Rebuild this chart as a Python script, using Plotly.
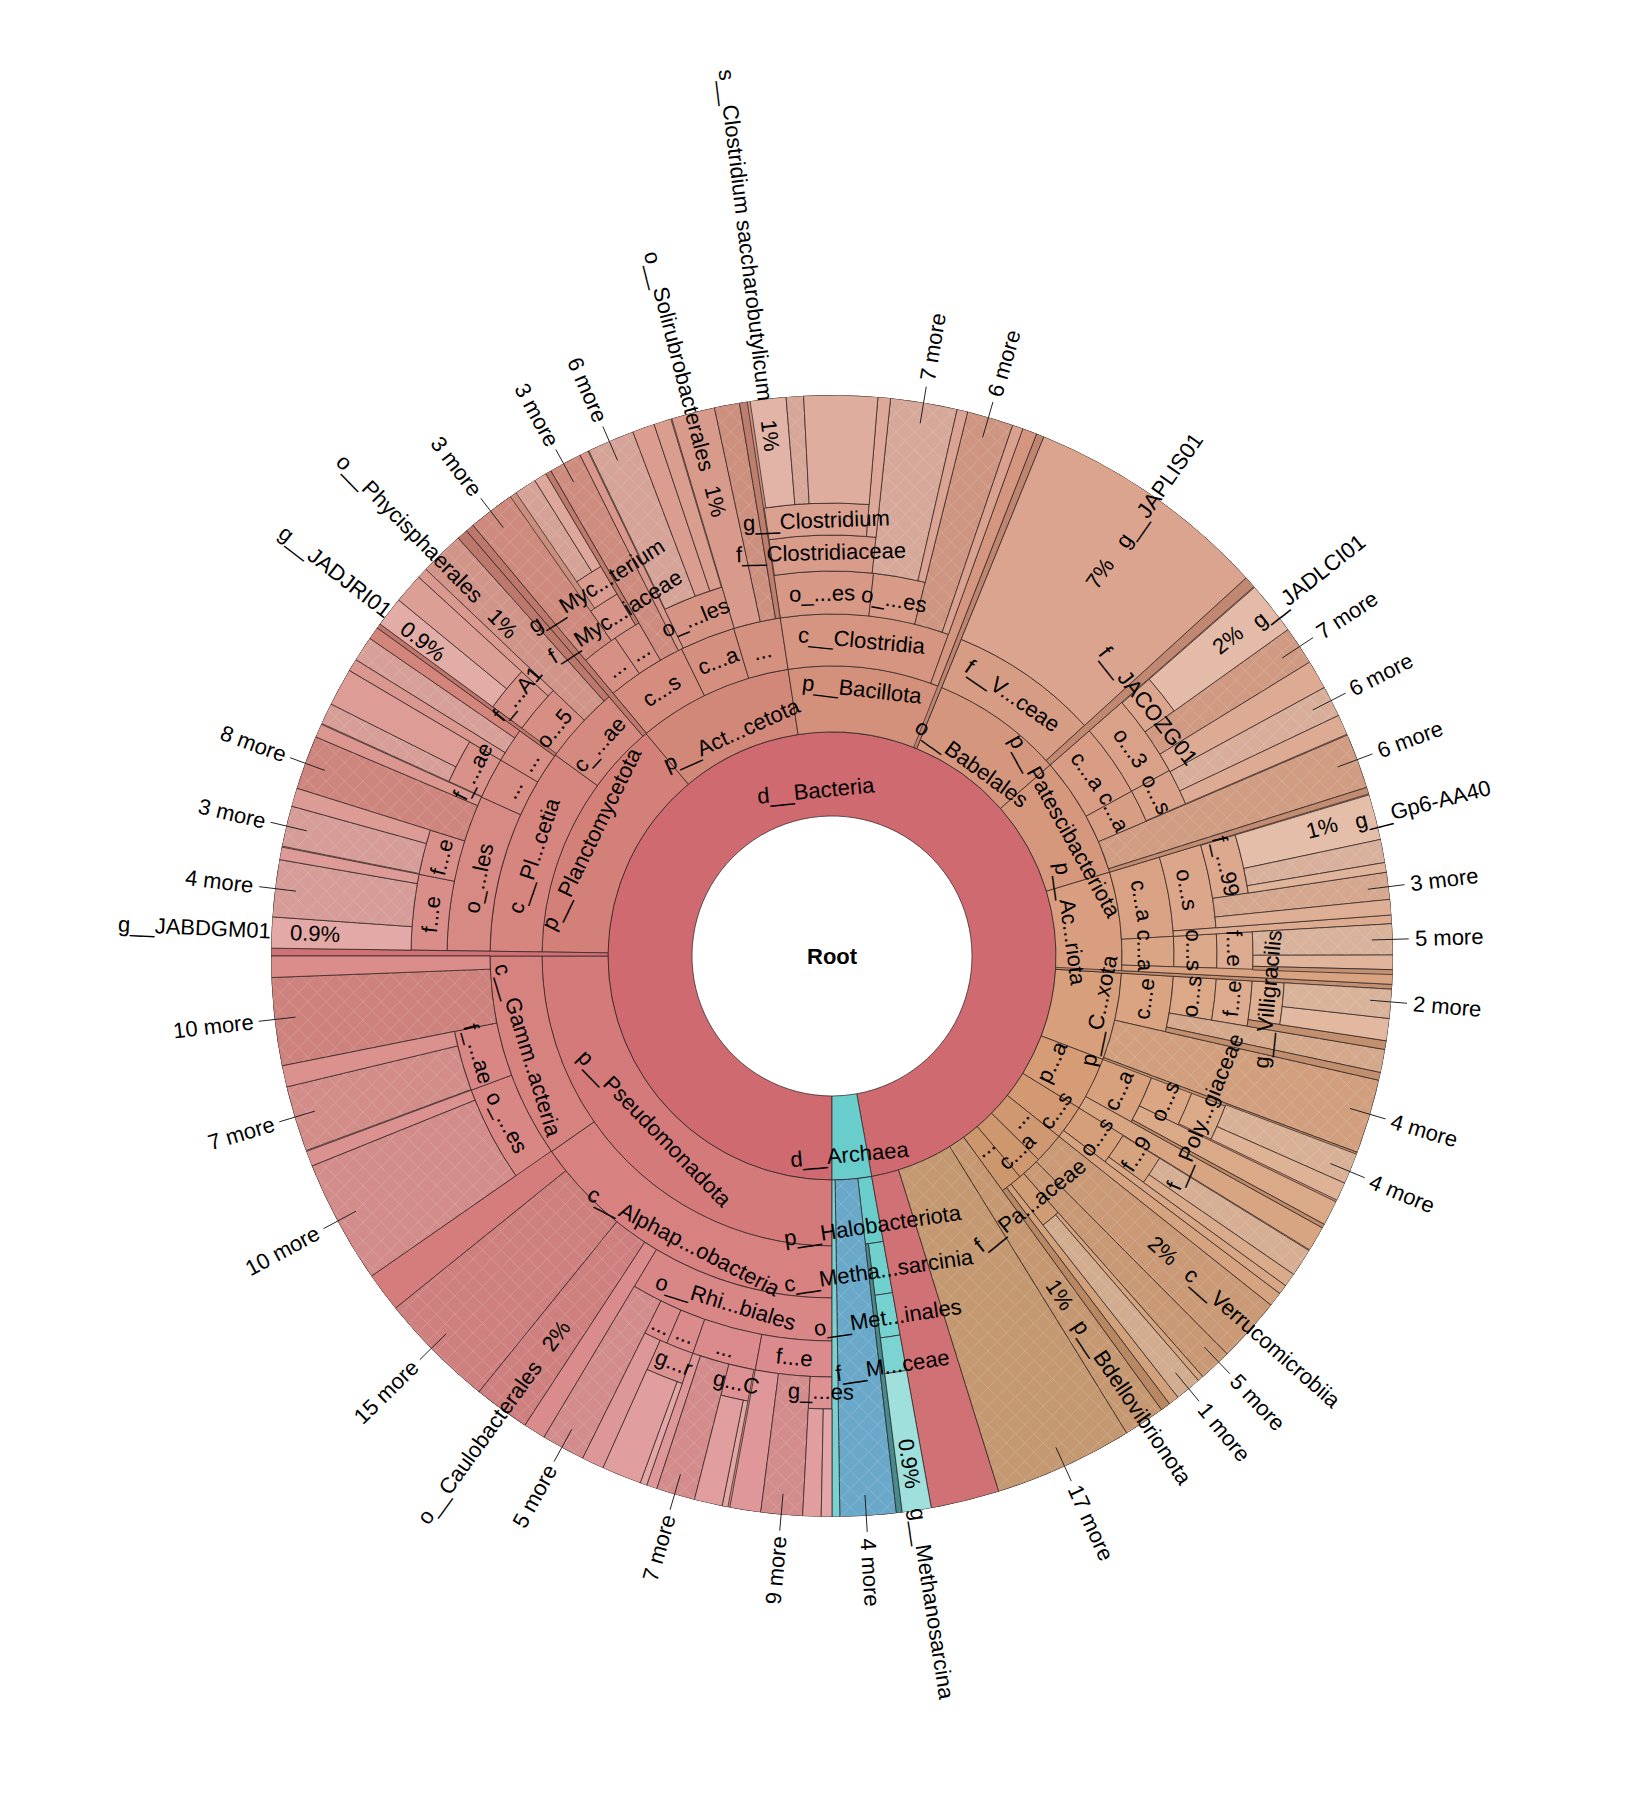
import math
import plotly.graph_objects as go

# Taxon spans in degrees, clockwise from twelve o'clock.
DOMAINS = [("bacteria", 180.0, 529.8), ("archaea", 169.8, 180.0)]

PHYLA = [(180, 270), (270.8, 320.1), (320.1, 351.3), (351.3, 382.2), (22.2, 48.8), (48.8, 73.2),
         (73.2, 93.4), (93.4, 110.9), (110.9, 121.6), (121.6, 128.5), (128.5, 134.6), (134.6, 139.6),
         (139.6, 144.0), (169.8, 173.4)]
CLASSES = [(235.1, 270), (180, 235.1), (270.8, 306), (306, 319.3), (320.2, 333.9), (333.9, 343.3),
           (343.3, 351.3), (351.3, 379.9), (22.2, 47.6), (48.8, 61.2), (61.2, 66.8), (73.2, 86.7),
           (86.7, 91.8), (93.4, 102.8), (110.7, 119), (121.6, 127), (138.6, 141.9), (169.8, 172.8)]
ORDERS = [(235.1, 249.6), (249.6, 258.7), (180, 210.9), (270.8, 294.4), (294.4, 300.6), (300.6, 305.8),
          (306, 313.6), (320.2, 325.7), (325.7, 329.9), (334.2, 343.4), (351.3, 366.2), (366.2, 374),
          (48.8, 61.2), (61.2, 66.7), (73.2, 85.8), (86.7, 91.8), (93.4, 99.6), (110.7, 116),
          (121.7, 126), (169.8, 172.8)]
FAMILIES = [(203.1, 206.4), (199.3, 203.1), (190.5, 199.3), (180, 190.5), (270.8, 281.2), (281.2, 287.4),
            (294.5, 300.6), (306.3, 312.5), (325, 329.3), (351.4, 366), (48.9, 54.4), (73.3, 81.4),
            (86.7, 91.9), (93.4, 99.6), (110.7, 115.8), (169.8, 172.8)]
GENERA = [(199.3, 204.1), (190.7, 194.2), (180, 183), (351.4, 364.7), (325.7, 329.3), (93.4, 98.7)]

# Wedges running out to the rim: start, end, rank they begin at, kind of node.
DOMAIN_LEAVES = [(162.7, 169.8, "p", "bacteria"), (270, 270.8, "p", "bacteria"),
                 (173.4, 179.2, "p", "blue"), (179.2, 180, "p", "teal")]
PHYLUM_LEAVES = [(144, 148.3, "p", "more_dark"), (148.3, 162.7, "p", "more_dark"), (21.4, 22.2, "p", "sliver"),
                 (92.9, 93.4, "p", "sliver")]
CLASS_LEAVES = [(319.3, 320.2, "c", "sliver"), (19.9, 21.4, "c", "dark"), (47.6, 48.8, "c", "sliver"),
                (66.8, 72.5, "c", "more_dark"), (72.5, 73.2, "c", "sliver"), (91.8, 92.9, "c", "dark"),
                (102.8, 110.5, "c", "more_dark"), (110.5, 110.9, "c", "sliver"), (119, 121.6, "c", "leaf"),
                (127, 128.5, "c", "leaf"), (128.5, 135.2, "c", "more_dark"), (135.2, 138.6, "c", "more_dark"),
                (141.9, 143, "c", "leaf"), (143, 144, "c", "sliver"), (172.8, 173.4, "c", "teal_dark")]
ORDER_LEAVES = [(258.7, 267.8, "o", "more_dark"), (267.8, 270, "o", "leaf"), (231.1, 235.2, "o", "dark"),
                (219, 231.1, "o", "more_dark"), (213.2, 219, "o", "more_dark"), (210.9, 213.2, "o", "leaf"),
                (313.6, 318.2, "o", "more"), (318.2, 319.3, "o", "sliver"), (329.9, 333.3, "o", "more_dark"),
                (333.3, 334.2, "o", "leaf"), (343.4, 347.9, "o", "leaf"), (347.9, 350.5, "o", "more_dark"),
                (350.5, 351.3, "o", "sliver"), (14, 18.8, "o", "more_dark"), (18.8, 19.9, "o", "leaf"),
                (22.2, 47.6, "o", "leaf"), (85.8, 86.7, "o", "leaf"), (99.6, 102, "o", "more"),
                (102, 102.8, "o", "sliver"), (116, 118.6, "o", "leaf"), (118.6, 119, "o", "sliver"),
                (126, 127, "o", "leaf"), (305.8, 306.3, "o", "sliver"), (138.6, 139.2, "o", "leaf"),
                (139.2, 141.9, "o", "more_pale")]
FAMILY_LEAVES = [(249.7, 256.5, "f", "more"), (256.5, 258.7, "f", "leaf"), (248, 249.6, "f", "leaf"),
                 (235.2, 248, "f", "more"), (206.4, 210.9, "f", "more"), (287.4, 293, "f", "more_dark"),
                 (293, 294.4, "f", "leaf"), (300.6, 301.9, "f", "leaf"), (301.9, 304.5, "f", "more_pale"),
                 (304.5, 305.8, "f", "dark"), (312.5, 313.6, "f", "leaf"), (320.2, 325, "f", "more_dark"),
                 (329.3, 329.9, "f", "sliver"), (334.3, 339.2, "f", "more_pale"), (339.2, 341.5, "f", "leaf"),
                 (341.5, 343.3, "f", "leaf"), (6, 12.9, "f", "more_pale"), (12.9, 14, "f", "leaf"),
                 (54.4, 58.4, "f", "more_dark"), (58.4, 61.4, "f", "leaf"), (61.4, 64.6, "f", "more_pale"),
                 (64.6, 66.7, "f", "leaf"), (81.4, 84.2, "f", "more"), (84.2, 85.8, "f", "leaf"),
                 (121.7, 124.6, "f", "more_pale"), (124.6, 126, "f", "leaf")]
GENUS_LEAVES = [(270.8, 274, "g", "pale"), (274, 279.9, "g", "more_pale"), (279.9, 281.2, "g", "leaf"),
                (281.3, 285.5, "g", "more_pale"), (285.5, 287.4, "g", "leaf"), (294.5, 296.7, "g", "more_pale"),
                (296.7, 300.6, "g", "leaf"), (306.3, 309.4, "g", "pale"), (309.4, 312.5, "g", "leaf"),
                (4.7, 6, "g", "leaf"), (48.9, 54.4, "g", "pale"), (73.3, 78, "g", "pale"),
                (78, 80.4, "g", "more_pale"), (80.4, 81.4, "g", "leaf"), (86.7, 89.9, "g", "more_pale"),
                (89.9, 91.4, "g", "leaf"), (91.4, 91.9, "g", "sliver"), (110.7, 113.9, "g", "more_pale"),
                (113.9, 115.8, "g", "leaf"), (204.1, 206.4, "g", "leaf"), (198.2, 199.3, "g", "leaf"),
                (194.2, 198.2, "g", "more"), (187.3, 190.5, "g", "leaf"), (183, 187.3, "g", "more"),
                (169.8, 172.8, "g", "teal_pale"), (98.7, 99.6, "g", "sliver")]
SPECIES_LEAVES = [(351.6, 355.3, "s", "pale"), (355.3, 357.1, "s", "more_pale"), (357.1, 364.7, "s", "leaf"),
                  (325.7, 328, "s", "more_pale"), (328, 329.3, "s", "leaf"), (96.4, 98.7, "s", "leaf"),
                  (93.4, 96.4, "s", "more_pale"), (199.3, 200, "s", "pale"), (200, 204.1, "s", "leaf"),
                  (190.7, 191.3, "s", "pale"), (191.3, 194.2, "s", "leaf"), (181.1, 183, "s", "leaf"),
                  (180, 181.1, "s", "pale")]

# Text set along a ring: label, angle, distance from the centre.
RING_LABELS = [
    ("d__Bacteria", 354.4, 166), ("d__Archaea", 175, 199), ("p__Act...cetota", 335.7, 243),
    ("p__Bacillota", 6.6, 268), ("c__Clostridia", 5.4, 317), ("o_...es", 358.5, 363), ("o_...es", 9.9, 362),
    ("f__Clostridiaceae", 358.5, 404), ("g__Clostridium", 357.9, 436), ("c...s", 327.3, 316), ("c...a", 339, 317),
    ("...", 347, 313), ("...", 323.2, 360), ("...", 327.8, 360), ("o_...les", 338, 365),
    ("f__Myc...iaceae", 327.4, 403), ("g__Myc...terium", 327.6, 439), ("c_...ae", 312.3, 315), ("o...5", 309.3, 359),
    ("f_...A1", 309.9, 410), ("...", 302.6, 360), ("f_...ae", 297.2, 404), ("...", 297.5, 360),
    ("c__Pl...cetia", 288.7, 315), ("p__Planctomycetota", 296.1, 268), ("o_...les", 282.4, 362), ("f...e", 284.2, 403),
    ("f...e", 275.9, 403), ("f__V...ceae", 34.7, 317), ("o__Babelales", 36, 238), ("p__Patescibacteriota", 60.9, 267),
    ("f__JACOZG01", 51.6, 403), ("p__Ac...riota", 82.3, 240), ("p__C...xota", 101.5, 272), ("o...3", 55.2, 364),
    ("o...s", 63.5, 363), ("c...a", 54.2, 316), ("c...a", 63, 317), ("c...a", 79.9, 314), ("c...a", 89, 313),
    ("c...e", 97.7, 315), ("o...s", 79.4, 361), ("o...s", 89.1, 362), ("o...s", 96.4, 362), ("f_...99", 77.2, 404),
    ("f...e", 89, 402), ("f...e", 96, 402), ("g__Villigracilis", 95.6, 438), ("f__Poly...giaceae", 112.6, 404),
    ("p...a", 115.6, 244), ("c...a", 115, 317), ("o...s", 113.6, 363), ("c...s", 124.7, 272), ("o...s", 124.3, 320),
    ("f...9", 123, 363), ("...", 131, 248), ("c...a", 136.6, 269), ("...", 141.5, 245), ("f__Pa...aceae", 141.6, 318),
    ("p__Halobacteriota", 171.5, 272), ("c__Metha...sarcinia", 171.5, 318), ("o__Met...inales", 171.3, 366),
    ("f__M...ceae", 171.6, 414), ("p__Pseudomonadota", 225.8, 247), ("c__Gamm..acteria", 252.8, 318),
    ("f_...ae", 254.6, 367), ("o_...es", 242.9, 365), ("c__Alphap...obacteria", 207.4, 322),
    ("o__Rhi...biales", 197, 362), ("...", 204.8, 407), ("...", 201.2, 406), ("...", 195.2, 407), ("f...e", 185.4, 403),
    ("g...r", 201.3, 436), ("g...C", 192.6, 437), ("g_...es", 181.5, 436),
]

# Text set along a spoke: label, angle, distance from the centre.
SPOKE_LABELS = [
    ("0.9%", 272.5, 517), ("0.9%", 307.6, 516), ("1%", 315.3, 468), ("1%", 345.6, 469), ("1%", 353.2, 524),
    ("7%", 35, 467), ("2%", 51.4, 507), ("1%", 75.3, 507), ("2%", 131.7, 443), ("1%", 146.1, 408),
    ("0.9%", 171.3, 513), ("2%", 216, 469),
    ("o__Solirubrobacterales", 345.6, 614), ("s__Clostridium saccharobutylicum", 353.2, 726),
    ("g__JAPLIS01", 35.1, 569), ("c__Verrucomicrobiia", 131.5, 575), ("p__Bdellovibrionota", 146, 538),
    ("g__Methanosarcina", 171.2, 656), ("o__Caulobacterales", 215.9, 601), ("g__JADLCI01", 51.8, 606),
    ("g__Gp6-AA40", 75.6, 610), ("g__JABDGM01", 272.6, 638), ("g__JADJRI01", 307.7, 628),
    ("o__Phycisphaerales", 315.4, 601),
]

# Collapsed subtrees marked past the rim: label, angle.
MORE_LABELS = [
    ("7 more", 9.4), ("6 more", 16.2), ("7 more", 56.5), ("6 more", 62.9), ("6 more", 69.5), ("3 more", 82.9),
    ("5 more", 88.3), ("2 more", 94.7), ("4 more", 106.4), ("4 more", 112.6), ("5 more", 136.4), ("1 more", 140.5),
    ("17 more", 155.5), ("4 more", 176.5), ("9 more", 185.2), ("7 more", 196.3), ("5 more", 208.8), ("15 more", 225.6),
    ("10 more", 241.8), ("7 more", 253.3), ("10 more", 263.5), ("4 more", 276.9), ("3 more", 283.4), ("8 more", 290.1),
    ("3 more", 322.5), ("3 more", 331.4), ("6 more", 336.6),
]

WIDTH, HEIGHT = 1638, 1800
CX, CY, RIM = 832, 956, 561
FONT = "Liberation Sans"
RANK_RADIUS = {"d": 140, "p": 224, "c": 290, "o": 342, "f": 385, "g": 421, "s": 453}
RING_TINT = {"p": 0.0, "c": 0.05, "o": 0.09, "f": 0.13, "g": 0.17}
LEAF_TINT = {"p": 0.08, "c": 0.1, "o": 0.13, "f": 0.17, "g": 0.22, "s": 0.27}
KIND_TINT = {"pale": 0.34, "dark": 0.02, "more": 0.12, "more_pale": 0.24, "more_dark": 0.02}
HATCHED = {"more", "more_pale", "more_dark", "blue"}
MUTE = (165, 150, 140)
FIXED = {"bacteria": (208, 113, 118), "blue": (106, 168, 201), "teal": (120, 210, 210),
         "teal_pale": (160, 224, 220), "teal_dark": (70, 140, 142)}
HUE_STOPS = [(0, (211, 142, 122)), (30, (213, 150, 126)), (60, (214, 152, 125)), (90, (216, 160, 127)),
             (110, (215, 158, 120)), (130, (208, 152, 112)), (155, (200, 150, 104)), (169.8, (200, 150, 104)),
             (180, (214, 122, 124)), (225, (212, 122, 122)), (270, (212, 124, 120)), (300, (211, 130, 120)),
             (335, (210, 136, 120)), (360, (211, 142, 122))]


def base_rgb(theta):
    theta %= 360
    if 169.8 <= theta < 180:
        return (104, 205, 203)
    for (a, ca), (b, cb) in zip(HUE_STOPS, HUE_STOPS[1:]):
        if a <= theta <= b:
            t = (theta - a) / (b - a)
            return tuple(x + (y - x) * t for x, y in zip(ca, cb))
    return HUE_STOPS[0][1]


def tinted(rgb, amount):
    return tuple(c + (255 - c) * amount for c in rgb)


def css(rgb):
    return "rgb({:.0f},{:.0f},{:.0f})".format(*rgb)


def leaf_colour(theta, rank, kind):
    if kind in FIXED:
        return css(FIXED[kind])
    if kind == "sliver":
        return css(tuple(c * 0.9 for c in base_rgb(theta)))
    if kind == "leaf":
        return css(tinted(base_rgb(theta), LEAF_TINT[rank]))
    colour = tinted(base_rgb(theta), KIND_TINT[kind])
    if kind in HATCHED:
        colour = tuple(c + (m - c) * 0.14 for c, m in zip(colour, MUTE))
    return css(colour)


plain = {"theta": [], "width": [], "base": [], "r": [], "color": []}
hatch = {"theta": [], "width": [], "base": [], "r": []}


def add_wedge(store, start, end, inner, outer, colour=None):
    store["theta"].append((start + end) / 2)
    store["width"].append(end - start)
    store["base"].append(inner)
    store["r"].append(outer - inner)
    if colour is not None:
        store["color"].append(colour)


# A backing annulus keeps hairline seams between neighbouring taxa from showing white.
add_wedge(plain, 180, 540, 224, RIM, "#c98f7c")
add_wedge(plain, DOMAINS[0][1], DOMAINS[0][2], 140, 224, "#ce6a70")
add_wedge(plain, DOMAINS[1][1], DOMAINS[1][2], 140, 224, "#68cdcb")

for spans, rank, outer in [(PHYLA, "p", 290), (CLASSES, "c", 342), (ORDERS, "o", 385),
                           (FAMILIES, "f", 421), (GENERA, "g", 453)]:
    for start, end in spans:
        mid = (start + end) / 2
        add_wedge(plain, start, end, RANK_RADIUS[rank], outer, css(tinted(base_rgb(mid), RING_TINT[rank])))

for group in [DOMAIN_LEAVES, PHYLUM_LEAVES, CLASS_LEAVES, ORDER_LEAVES, FAMILY_LEAVES, GENUS_LEAVES, SPECIES_LEAVES]:
    for start, end, rank, kind in group:
        mid = (start + end) / 2
        add_wedge(plain, start, end, RANK_RADIUS[rank], RIM, leaf_colour(mid, rank, kind))
        if kind in HATCHED:
            add_wedge(hatch, start, end, RANK_RADIUS[rank], RIM)

EDGE = dict(color="rgba(45,35,35,0.72)", width=1)
fig = go.Figure()
fig.add_trace(go.Barpolar(theta=plain["theta"], width=plain["width"], base=plain["base"], r=plain["r"],
                          marker=dict(color=plain["color"], line=EDGE), hoverinfo="skip", showlegend=False))
# The weave on collapsed wedges is a transparent layer over their flat fill.
fig.add_trace(go.Barpolar(theta=hatch["theta"], width=hatch["width"], base=hatch["base"], r=hatch["r"],
                          marker=dict(color="rgba(255,255,255,0)", line=dict(width=0),
                                      pattern=dict(shape="x", size=13, solidity=0.12, fillmode="replace",
                                                   bgcolor="rgba(0,0,0,0)", fgcolor="#ffffff", fgopacity=0.2)),
                          hoverinfo="skip", showlegend=False))


def paper_xy(theta, r):
    rad = math.radians(theta)
    return (CX + r * math.sin(rad)) / WIDTH, 1 - (CY - r * math.cos(rad)) / HEIGHT


def ring_angle(theta):
    theta %= 360
    return theta - 180 if 90 < theta < 270 else (theta - 360 if theta >= 270 else theta)


def spoke_angle(theta):
    theta %= 360
    return theta - 90 if theta < 180 else theta - 270


def note(text, theta, r, angle, bold=False):
    x, y = paper_xy(theta, r)
    label = "<b>{}</b>".format(text) if bold else text
    return dict(text=label, x=x, y=y, xref="paper", yref="paper", showarrow=False, xanchor="center",
                yanchor="middle", textangle=angle, font=dict(family=FONT, size=22, color="#000000"))


# Short leader ticks from collapsed wedges to their labels, above the bars.
ticks = []
for _, angle in MORE_LABELS:
    x0, y0 = paper_xy(angle, 540)
    x1, y1 = paper_xy(angle, 577)
    ticks.append(dict(type="line", xref="paper", yref="paper", x0=x0, y0=y0, x1=x1, y1=y1, layer="above",
                      line=dict(color="#222222", width=1)))

notes = [note("Root", 0, 0, 0, bold=True)]
notes += [note(t, a, r, ring_angle(a)) for t, a, r in RING_LABELS]
notes += [note(t, a, r, spoke_angle(a)) for t, a, r in SPOKE_LABELS]
notes += [note(t, a, 623 if len(t) > 6 else 617, spoke_angle(a)) for t, a in MORE_LABELS]

fig.update_layout(
    width=WIDTH, height=HEIGHT, margin=dict(l=0, r=0, t=0, b=0), paper_bgcolor="white", showlegend=False,
    annotations=notes, shapes=ticks,
    polar=dict(
        domain=dict(x=[(CX - RIM) / WIDTH, (CX + RIM) / WIDTH],
                    y=[1 - (CY + RIM) / HEIGHT, 1 - (CY - RIM) / HEIGHT]),
        bgcolor="white", barmode="overlay",
        radialaxis=dict(visible=False, range=[0, RIM]),
        angularaxis=dict(visible=False, direction="clockwise", rotation=90),
    ),
)
fig.write_html("out.html")
